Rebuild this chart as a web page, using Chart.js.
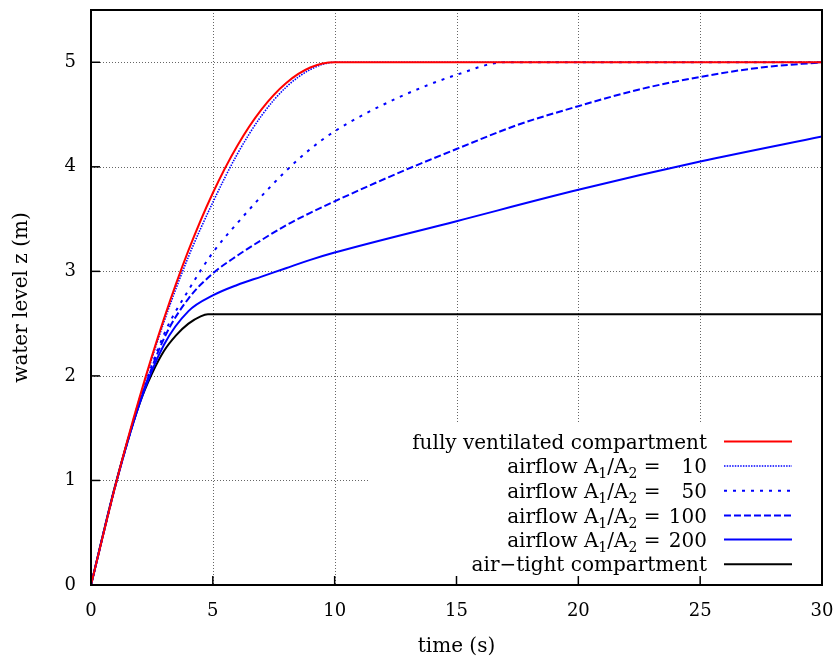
<!DOCTYPE html>
<html>
<head>
<meta charset="utf-8">
<script src="https://cdn.jsdelivr.net/npm/chart.js@4.4.1/dist/chart.umd.min.js"></script>
<style>
  html, body { margin: 0; padding: 0; background: #fff; }
  #wrap { width: 839px; height: 664px; }
</style>
</head>
<body>
<div id="wrap"><canvas id="levelChart" width="839" height="664"></canvas></div>
<script>
// values: time (s) -> water level z (m)
var tVent = [0, 1, 2, 3, 4, 5, 6, 7, 8, 9, 10, 30];
var zVent = [0, 0.95, 1.8, 2.55, 3.2, 3.75, 4.2, 4.55, 4.8, 4.95, 5.0, 5.0];

var tAir10 = [0, 1, 2, 3, 4, 5, 6, 7, 8, 9, 10, 30];
var zAir10 = [0, 0.95, 1.79, 2.52, 3.14, 3.66, 4.12, 4.49, 4.76, 4.93, 5.0, 5.0];

var tAir50 = [0, 1, 2, 3, 4, 5, 6, 7, 8, 9, 10, 12.5, 15, 17, 30];
var zAir50 = [0, 0.95, 1.76, 2.4, 2.82, 3.18, 3.46, 3.72, 3.96, 4.17, 4.34, 4.65, 4.88, 5.0, 5.0];

var tAir100 = [0, 1, 2, 3, 4, 5, 6, 7, 8, 9, 10, 12.5, 15, 17.5, 20, 22.5, 25, 27.5, 30];
var zAir100 = [0, 0.95, 1.75, 2.36, 2.74, 2.98, 3.15, 3.30, 3.44, 3.56, 3.67, 3.93, 4.17, 4.40, 4.58, 4.74, 4.86, 4.95, 5.0];

var tAir200 = [0, 1, 2, 3, 4, 5, 6, 7, 8, 9, 10, 15, 20, 25, 30];
var zAir200 = [0, 0.95, 1.74, 2.3, 2.62, 2.77, 2.87, 2.95, 3.03, 3.11, 3.18, 3.48, 3.78, 4.05, 4.29];

var tTight = [0, 1, 2, 2.5, 3, 3.5, 4, 4.5, 4.8, 30];
var zTight = [0, 0.96, 1.74, 2.02, 2.24, 2.39, 2.5, 2.57, 2.59, 2.59];

var xTicks = [0, 5, 10, 15, 20, 25, 30];
var yTicks = [0, 1, 2, 3, 4, 5];

var legendRows = [
    { text: 'fully ventilated compartment' },
    { ratio: '10' },
    { ratio: '50' },
    { ratio: '100' },
    { ratio: '200' },
    { text: 'air\u2212tight compartment' }
];

var SERIF = "'DejaVu Serif', serif";

function pts(ts, zs) {
    return ts.map(function(t, i) { return { x: t, y: zs[i] }; });
}

function series(label, ts, zs, color, width, dash) {
    return {
        label: label,
        data: pts(ts, zs),
        borderColor: color,
        borderWidth: width,
        borderDash: dash,
        pointRadius: 0,
        fill: false,
        cubicInterpolationMode: 'monotone'
    };
}

var datasets = [
    series('fully ventilated compartment', tVent, zVent, '#ff0000', 2, []),
    series('airflow A1/A2 = 10', tAir10, zAir10, '#0000ff', 1.6, [1.5, 1.2]),
    series('airflow A1/A2 = 50', tAir50, zAir50, '#0000ff', 2, [3, 6]),
    series('airflow A1/A2 = 100', tAir100, zAir100, '#0000ff', 2, [7, 3]),
    series('airflow A1/A2 = 200', tAir200, zAir200, '#0000ff', 2, []),
    series('air-tight compartment', tTight, zTight, '#000000', 2, [])
];

// gnuplot-like frame: dotted grid, inward ticks, boxed key
var framePlugin = {
    id: 'frame',
    beforeDatasetsDraw: function(chart) {
        var ctx = chart.ctx, a = chart.chartArea;
        var xs = chart.scales.x, ys = chart.scales.y;
        ctx.save();
        ctx.strokeStyle = 'rgba(0,0,0,0.6)';
        ctx.lineWidth = 1;
        ctx.setLineDash([1, 2]);
        xTicks.forEach(function(v) {
            if (v === xs.min || v === xs.max) return;
            var px = Math.round(xs.getPixelForValue(v)) + 0.5;
            ctx.beginPath(); ctx.moveTo(px, a.top); ctx.lineTo(px, a.bottom); ctx.stroke();
        });
        yTicks.forEach(function(v) {
            if (v === ys.min) return;
            var py = Math.round(ys.getPixelForValue(v)) + 0.5;
            ctx.beginPath(); ctx.moveTo(a.left, py); ctx.lineTo(a.right, py); ctx.stroke();
        });
        ctx.setLineDash([]);
        // key box background hides the grid
        ctx.fillStyle = '#ffffff';
        ctx.fillRect(370, 424, a.right - 370, a.bottom - 424);
        ctx.restore();
    },
    afterDatasetsDraw: function(chart) {
        var ctx = chart.ctx, a = chart.chartArea;
        var xs = chart.scales.x, ys = chart.scales.y;
        ctx.save();
        ctx.strokeStyle = '#000';
        ctx.lineWidth = 1.5;
        xTicks.forEach(function(v) {
            var px = xs.getPixelForValue(v);
            ctx.beginPath(); ctx.moveTo(px, a.bottom); ctx.lineTo(px, a.bottom - 9); ctx.stroke();
        });
        yTicks.forEach(function(v) {
            var py = ys.getPixelForValue(v);
            ctx.beginPath(); ctx.moveTo(a.left, py); ctx.lineTo(a.left + 9, py); ctx.stroke();
        });
        ctx.lineWidth = 2;
        ctx.strokeRect(a.left, a.top, a.right - a.left, a.bottom - a.top);

        // axis titles
        ctx.fillStyle = '#000';
        ctx.font = '20px ' + SERIF;
        ctx.textAlign = 'center';
        ctx.textBaseline = 'middle';
        ctx.fillText('time (s)', (a.left + a.right) / 2, 647);
        ctx.save();
        ctx.translate(22, (a.top + a.bottom) / 2);
        ctx.rotate(-Math.PI / 2);
        ctx.fillText('water level z (m)', 0, 0);
        ctx.restore();

        // key
        var rowY = [441.5, 466, 490.7, 515.5, 539.5, 564.3];
        var textRight = 707, sampleL = 724, sampleR = 792;
        var big = '20px ' + SERIF, small = '14px ' + SERIF;
        ctx.textBaseline = 'alphabetic';
        ctx.font = big;
        var numW = ctx.measureText('200').width;
        legendRows.forEach(function(row, i) {
            var y = rowY[i], base = y + 7;
            ctx.fillStyle = '#000';
            ctx.font = big;
            ctx.textAlign = 'right';
            if (row.text) {
                ctx.fillText(row.text, textRight, base);
            } else {
                ctx.fillText(row.ratio, textRight, base);
                var segs = [
                    { s: 'airflow A', sub: false },
                    { s: '1', sub: true },
                    { s: '/A', sub: false },
                    { s: '2', sub: true },
                    { s: ' = ', sub: false }
                ];
                var x = textRight - numW - 2;
                for (var k = segs.length - 1; k >= 0; k--) {
                    ctx.font = segs[k].sub ? small : big;
                    ctx.fillText(segs[k].s, x, base + (segs[k].sub ? 5 : 0));
                    x -= ctx.measureText(segs[k].s).width;
                }
            }
            var ds = chart.data.datasets[i];
            ctx.strokeStyle = ds.borderColor;
            ctx.lineWidth = ds.borderWidth;
            ctx.setLineDash(ds.borderDash || []);
            ctx.beginPath(); ctx.moveTo(sampleL, y); ctx.lineTo(sampleR, y); ctx.stroke();
            ctx.setLineDash([]);
        });
        ctx.restore();
    }
};

new Chart(document.getElementById('levelChart'), {
    type: 'line',
    data: { datasets: datasets },
    options: {
        responsive: false,
        animation: false,
        layout: { padding: { top: 10, right: 17, left: 0, bottom: 0 } },
        scales: {
            x: {
                type: 'linear',
                min: 0,
                max: 30,
                grid: { display: false, drawTicks: false },
                border: { display: false },
                ticks: {
                    stepSize: 5,
                    padding: 16,
                    color: '#000',
                    font: { size: 18, family: SERIF }
                },
                afterFit: function(scale) {
                    scale.height = 79;
                    scale.paddingLeft = 0;
                    scale.paddingRight = 0;
                }
            },
            y: {
                type: 'linear',
                min: 0,
                max: 5.5,
                grid: { display: false, drawTicks: false },
                border: { display: false },
                ticks: {
                    stepSize: 1,
                    includeBounds: false,
                    padding: 15,
                    color: '#000',
                    font: { size: 18, family: SERIF }
                },
                afterFit: function(scale) {
                    scale.width = 91;
                    scale.paddingTop = 0;
                    scale.paddingBottom = 0;
                }
            }
        },
        plugins: {
            legend: { display: false },
            tooltip: { enabled: false }
        }
    },
    plugins: [framePlugin]
});
</script>
</body>
</html>
